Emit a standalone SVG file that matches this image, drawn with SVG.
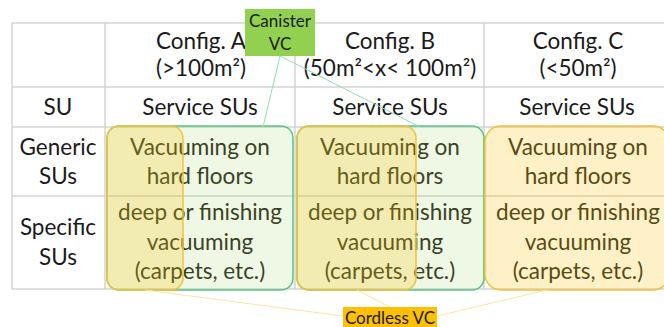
<svg xmlns="http://www.w3.org/2000/svg" width="664" height="327" viewBox="0 0 664 327">
<style>
.t{font-family:Lato,"Liberation Sans",sans-serif;font-size:22.5px;fill:#1a1a1a;text-anchor:middle}
.b{fill:#2a2a1a}
.grid{stroke:#d4d4d4;stroke-width:1.5;fill:none}
.gbox{fill:#92D050;fill-opacity:0.15;stroke:#55c585;stroke-width:1.5}
.ybox{fill:#FFC000;fill-opacity:0.22;stroke:#f2c23e;stroke-width:1.5}
.gl{stroke:#8fe0b0;stroke-width:1}
.yl{stroke:#ffe3a0;stroke-width:1}
.lab{font-family:Lato,"Liberation Sans",sans-serif;font-size:17px;fill:#1a1a1a;text-anchor:middle}
</style>
<rect width="664" height="327" fill="#fff"/>
<g id="table">
<path class="grid" d="M12 23H672M12 87H672M12 127H672M12 196H672M12 289H672M12 23V289M105 23V289M295 23V289M484 23V289"/>
<text class="t" x="201" y="49">Config. A</text>
<text class="t" x="201" y="76">(&gt;100m²)</text>
<text class="t" x="390" y="49">Config. B</text>
<text class="t" x="390" y="76">(50m²&lt;x&lt; 100m²)</text>
<text class="t" x="578" y="49">Config. C</text>
<text class="t" x="578" y="76">(&lt;50m²)</text>
<text class="t" x="58" y="115">SU</text>
<text class="t" x="200" y="115">Service SUs</text>
<text class="t" x="390" y="115">Service SUs</text>
<text class="t" x="577" y="115">Service SUs</text>
<text class="t" x="58" y="155">Generic</text>
<text class="t" x="58" y="184">SUs</text>
<text class="t" x="58" y="235">Specific</text>
<text class="t" x="58" y="265">SUs</text>
</g>
<g id="cells">
<text class="t b" x="200" y="155">Vacuuming on</text>
<text class="t b" x="200" y="184">hard floors</text>
<text class="t b" x="200" y="220">deep or finishing</text>
<text class="t b" x="200" y="250">vacuuming</text>
<text class="t b" x="200" y="279">(carpets, etc.)</text>
<text class="t b" x="390" y="155">Vacuuming on</text>
<text class="t b" x="390" y="184">hard floors</text>
<text class="t b" x="390" y="220">deep or finishing</text>
<text class="t b" x="390" y="250">vacuuming</text>
<text class="t b" x="390" y="279">(carpets, etc.)</text>
<text class="t b" x="578" y="155">Vacuuming on</text>
<text class="t b" x="578" y="184">hard floors</text>
<text class="t b" x="578" y="220">deep or finishing</text>
<text class="t b" x="578" y="250">vacuuming</text>
<text class="t b" x="578" y="279">(carpets, etc.)</text>
</g>
<g id="canister-groups">
<rect class="gbox" x="107" y="126" width="186" height="164" rx="12"/>
<rect class="gbox" x="297" y="126" width="187" height="164" rx="12"/>
</g>
<g id="cordless-groups">
<rect class="ybox" x="107" y="126" width="76" height="164" rx="12"/>
<rect class="ybox" x="297" y="126" width="119" height="164" rx="12"/>
<rect class="ybox" x="485" y="126" width="184" height="164" rx="16"/>
</g>
<g id="connectors">
<line class="gl" x1="280" y1="56" x2="263" y2="127"/>
<line class="gl" x1="280" y1="56" x2="420" y2="127"/>
<line class="yl" x1="343" y1="316" x2="145" y2="290"/>
<line class="yl" x1="390" y1="307" x2="357" y2="290"/>
<line class="yl" x1="437" y1="316" x2="547" y2="290"/>
</g>
<g id="canister-vc">
<rect x="245" y="9" width="70" height="47" fill="#92D050"/>
<text class="lab" x="280" y="27">Canister</text>
<text class="lab" x="280" y="50">VC</text>
</g>
<g id="cordless-vc">
<rect x="343" y="307" width="94" height="22" fill="#FFC000"/>
<text class="lab" x="390" y="324">Cordless VC</text>
</g>
</svg>
